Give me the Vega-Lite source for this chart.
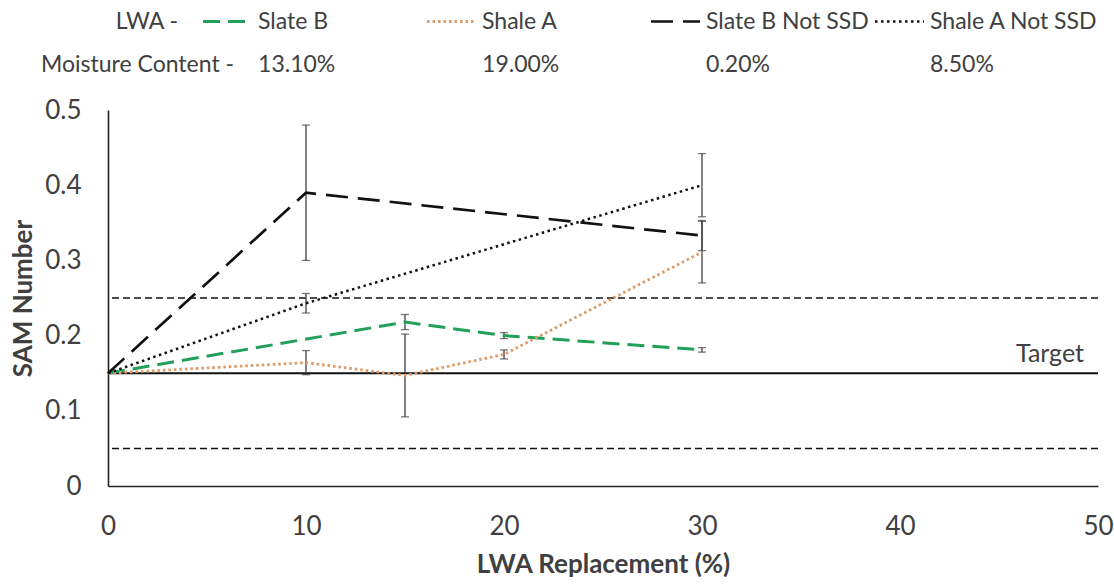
{
  "$schema": "https://vega.github.io/schema/vega-lite/v6.json",
  "background": "white",
  "padding": {"left": 10, "right": 5, "top": 0, "bottom": 5},
  "spacing": 11,
  "config": {
    "font": "Lato",
    "view": {"stroke": null},
    "text": {"font": "Lato", "fontSize": 23, "color": "#404040"},
    "axis": {
      "labelFont": "Lato",
      "labelFontSize": 26,
      "labelColor": "#404040",
      "titleFont": "Lato",
      "titleFontSize": 26,
      "titleFontWeight": "bold",
      "titleColor": "#404040",
      "ticks": false,
      "grid": false,
      "domainColor": "#222222",
      "domainWidth": 1.6
    }
  },
  "datasets": {
    "sam": [
      {"lwa": "Slate B", "replacement": 0, "sam": 0.15, "err": 0},
      {"lwa": "Slate B", "replacement": 15, "sam": 0.218, "err": 0.01},
      {"lwa": "Slate B", "replacement": 20, "sam": 0.2, "err": 0.004},
      {"lwa": "Slate B", "replacement": 30, "sam": 0.181, "err": 0.003},
      {"lwa": "Shale A", "replacement": 0, "sam": 0.15, "err": 0},
      {"lwa": "Shale A", "replacement": 10, "sam": 0.164, "err": 0.016},
      {"lwa": "Shale A", "replacement": 15, "sam": 0.147, "err": 0.055},
      {"lwa": "Shale A", "replacement": 20, "sam": 0.175, "err": 0.006},
      {"lwa": "Shale A", "replacement": 30, "sam": 0.311, "err": 0.041},
      {"lwa": "Slate B Not SSD", "replacement": 0, "sam": 0.15, "err": 0},
      {"lwa": "Slate B Not SSD", "replacement": 10, "sam": 0.39, "err": 0.09},
      {"lwa": "Slate B Not SSD", "replacement": 30, "sam": 0.333, "err": 0.02},
      {"lwa": "Shale A Not SSD", "replacement": 0, "sam": 0.15, "err": 0},
      {"lwa": "Shale A Not SSD", "replacement": 10, "sam": 0.243, "err": 0.013},
      {"lwa": "Shale A Not SSD", "replacement": 30, "sam": 0.4, "err": 0.042}
    ],
    "key": [
      {"lwa": "Slate B", "slot": 1, "moisture": "13.10%"},
      {"lwa": "Shale A", "slot": 2, "moisture": "19.00%"},
      {"lwa": "Slate B Not SSD", "slot": 3, "moisture": "0.20%"},
      {"lwa": "Shale A Not SSD", "slot": 4, "moisture": "8.50%"}
    ]
  },
  "vconcat": [
    {
      "width": 990,
      "height": 86,
      "data": {"name": "key"},
      "encoding": {
        "x": {"field": "slot", "type": "quantitative", "scale": {"domain": [0.33, 4.75]}, "axis": null}
      },
      "layer": [
        {
          "mark": {"type": "rule", "xOffset": -55, "x2Offset": -6, "strokeCap": "butt"},
          "encoding": {
            "x2": {"field": "slot"},
            "y": {"datum": "LWA", "type": "nominal", "scale": {"type": "point", "domain": ["LWA", "Moisture"], "padding": 0.5}, "axis": null},
            "color": {"field": "lwa", "type": "nominal", "legend": null,
              "scale": {"domain": ["Slate B", "Shale A", "Slate B Not SSD", "Shale A Not SSD"], "range": ["#22a05a", "#dd9a66", "#111111", "#111111"]}},
            "strokeDash": {"field": "lwa", "type": "nominal", "legend": null,
              "scale": {"domain": ["Slate B", "Shale A", "Slate B Not SSD", "Shale A Not SSD"], "range": [[17, 8], [2.5, 3], [22, 10], [2.5, 3.5]]}},
            "strokeWidth": {"field": "lwa", "type": "nominal", "legend": null,
              "scale": {"domain": ["Slate B", "Shale A", "Slate B Not SSD", "Shale A Not SSD"], "range": [3, 2.5, 3.8, 2.5]}}
          }
        },
        {
          "mark": {"type": "text", "align": "left", "baseline": "middle"},
          "encoding": {
            "y": {"datum": "LWA", "type": "nominal"},
            "text": {"field": "lwa"}
          }
        },
        {
          "mark": {"type": "text", "align": "left", "baseline": "middle"},
          "encoding": {
            "y": {"datum": "Moisture", "type": "nominal"},
            "text": {"field": "moisture"}
          }
        },
        {
          "data": {"values": [{"slot": 1, "label": "LWA -"}]},
          "mark": {"type": "text", "align": "right", "baseline": "middle", "dx": -80},
          "encoding": {
            "y": {"datum": "LWA", "type": "nominal"},
            "text": {"field": "label"}
          }
        },
        {
          "data": {"values": [{"slot": 1, "label": "Moisture Content -"}]},
          "mark": {"type": "text", "align": "right", "baseline": "middle", "dx": -24},
          "encoding": {
            "y": {"datum": "Moisture", "type": "nominal"},
            "text": {"field": "label"}
          }
        }
      ]
    },
    {
      "width": 990,
      "height": 376,
      "layer": [
        {
          "data": {"values": [{"limit": 0.05}, {"limit": 0.25}]},
          "mark": {"type": "rule", "color": "#111111", "strokeWidth": 1.5, "strokeDash": [7, 4]},
          "encoding": {
            "y": {"field": "limit", "type": "quantitative", "scale": {"domain": [0, 0.5], "nice": false}}
          }
        },
        {
          "data": {"values": [{"target": 0.15, "label": "Target"}]},
          "layer": [
            {
              "mark": {"type": "rule", "color": "#111111", "strokeWidth": 2},
              "encoding": {"y": {"field": "target", "type": "quantitative"}}
            },
            {
              "mark": {"type": "text", "align": "right", "baseline": "bottom", "dx": -14, "dy": -6, "fontSize": 25},
              "encoding": {
                "x": {"datum": 50, "type": "quantitative"},
                "y": {"field": "target", "type": "quantitative"},
                "text": {"field": "label"}
              }
            }
          ]
        },
        {
          "data": {"name": "sam"},
          "transform": [{"filter": "datum.err > 0"}],
          "mark": {"type": "errorbar", "ticks": true, "size": 8, "thickness": 1.3, "color": "#404040"},
          "encoding": {
            "x": {"field": "replacement", "type": "quantitative"},
            "y": {"field": "sam", "type": "quantitative", "title": "SAM Number"},
            "yError": {"field": "err"}
          }
        },
        {
          "data": {"name": "sam"},
          "mark": {"type": "line", "strokeCap": "butt", "strokeJoin": "miter"},
          "encoding": {
            "x": {"field": "replacement", "type": "quantitative", "title": "LWA Replacement (%)",
              "scale": {"domain": [0, 50], "nice": false},
              "axis": {"values": [0, 10, 20, 30, 40, 50], "labelPadding": 27, "titlePadding": 12, "labelFlush": false}},
            "y": {"field": "sam", "type": "quantitative", "title": "SAM Number",
              "scale": {"domain": [0, 0.5], "nice": false},
              "axis": {"values": [0, 0.1, 0.2, 0.3, 0.4, 0.5], "format": "~g", "labelPadding": 27, "titlePadding": 8, "labelFlush": false}},
            "color": {"field": "lwa", "type": "nominal", "legend": null},
            "strokeDash": {"field": "lwa", "type": "nominal", "legend": null},
            "strokeWidth": {"field": "lwa", "type": "nominal", "legend": null}
          }
        }
      ]
    }
  ]
}
